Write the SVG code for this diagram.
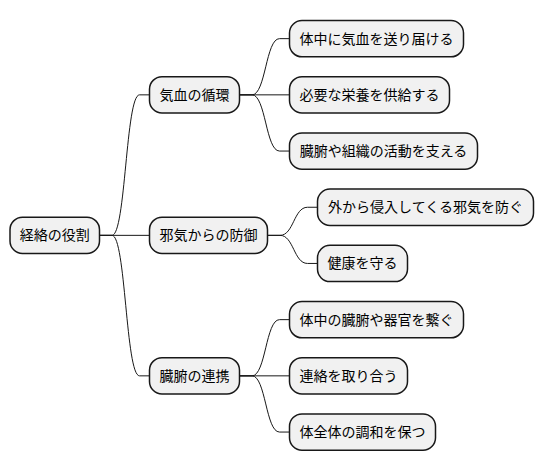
<svg xmlns="http://www.w3.org/2000/svg" width="544" height="471" viewBox="0 0 544 471">
<style>
.n rect{fill:#F1F1F1;stroke:#181818;stroke-width:1.5}
.n text{font-family:"Noto Sans CJK JP","Noto Sans CJK SC",sans-serif;font-size:14px;fill:#000000;text-anchor:middle}
.c path{fill:none;stroke:#181818;stroke-width:1}
</style>
<rect width="544" height="471" fill="#FFFFFF"/>
<g class="c" id="connectors">
<path d="M99.5 235.35 L112 235.35 C125.75 235.35 125.75 94.85 139.5 94.85 L149.5 94.85"/>
<path d="M99.5 235.35 L149.5 235.35"/>
<path d="M99.5 235.35 L112 235.35 C125.75 235.35 125.75 375.85 139.5 375.85 L149.5 375.85"/>
<path d="M239.5 94.85 L252 94.85 C265.75 94.85 265.75 38.65 279.5 38.65 L289.5 38.65"/>
<path d="M239.5 94.85 L289.5 94.85"/>
<path d="M239.5 94.85 L252 94.85 C265.75 94.85 265.75 151.05 279.5 151.05 L289.5 151.05"/>
<path d="M267.5 235.35 L280 235.35 C293.75 235.35 293.75 207.25 307.5 207.25 L317.5 207.25"/>
<path d="M267.5 235.35 L280 235.35 C293.75 235.35 293.75 263.45 307.5 263.45 L317.5 263.45"/>
<path d="M239.5 375.85 L252 375.85 C265.75 375.85 265.75 319.65 279.5 319.65 L289.5 319.65"/>
<path d="M239.5 375.85 L289.5 375.85"/>
<path d="M239.5 375.85 L252 375.85 C265.75 375.85 265.75 432.05 279.5 432.05 L289.5 432.05"/>
</g>
<g class="n" id="root"><rect x="10" y="217.2" width="89.5" height="36.3" rx="12.5"/><text x="54.75" y="240.35">経絡の役割</text></g>
<g class="n" id="n1"><rect x="149.5" y="76.7" width="90" height="36.3" rx="12.5"/><text x="194.5" y="99.85">気血の循環</text></g>
<g class="n" id="n2"><rect x="149.5" y="217.2" width="118" height="36.3" rx="12.5"/><text x="208.5" y="240.35">邪気からの防御</text></g>
<g class="n" id="n3"><rect x="149.5" y="357.7" width="90" height="36.3" rx="12.5"/><text x="194.5" y="380.85">臓腑の連携</text></g>
<g class="n" id="l1"><rect x="289.5" y="20.5" width="174" height="36.3" rx="12.5"/><text x="376.5" y="43.65">体中に気血を送り届ける</text></g>
<g class="n" id="l2"><rect x="289.5" y="76.7" width="160" height="36.3" rx="12.5"/><text x="369.5" y="99.85">必要な栄養を供給する</text></g>
<g class="n" id="l3"><rect x="289.5" y="132.9" width="188" height="36.3" rx="12.5"/><text x="383.5" y="156.05">臓腑や組織の活動を支える</text></g>
<g class="n" id="l4"><rect x="317.5" y="189.1" width="216" height="36.3" rx="12.5"/><text x="425.5" y="212.25">外から侵入してくる邪気を防ぐ</text></g>
<g class="n" id="l5"><rect x="317.5" y="245.3" width="90" height="36.3" rx="12.5"/><text x="362.5" y="268.45">健康を守る</text></g>
<g class="n" id="l6"><rect x="289.5" y="301.5" width="174" height="36.3" rx="12.5"/><text x="376.5" y="324.65">体中の臓腑や器官を繋ぐ</text></g>
<g class="n" id="l7"><rect x="289.5" y="357.7" width="118" height="36.3" rx="12.5"/><text x="348.5" y="380.85">連絡を取り合う</text></g>
<g class="n" id="l8"><rect x="289.5" y="413.9" width="146" height="36.3" rx="12.5"/><text x="362.5" y="437.05">体全体の調和を保つ</text></g>
</svg>
